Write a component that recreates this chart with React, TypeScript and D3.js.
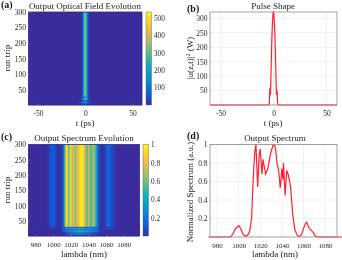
import React, { useEffect, useRef } from "react";
import * as d3 from "d3";

// parula colormap samples
const parula = ["#3a2c9c", "#0f5cdd", "#127dd8", "#079ccf", "#15b1b4", "#59bd8c", "#a5be6b", "#e1b952", "#fcce2e", "#f9fb0e"];

// pulse shape (b), also the steady part of panel (a)
const pulseTimes = [-60, -4.4, -3.9, -3.5, -3.2, -2.9, -2.5, -2, -1.5, -1, -0.5, -0.2, 0.2, 0.6, 1, 1.5, 2, 2.5, 2.8, 3.1, 3.4, 3.9, 4.4, 60];
const pulsePower = [0, 0, 8, 55, 58, 35, 85, 165, 235, 285, 315, 322, 320, 300, 275, 225, 150, 70, 35, 52, 45, 6, 0, 0];

// early round trips of panel (a)
const earlyTrips = [1, 5, 8, 11, 14, 18, 21, 24, 27, 30, 34];
const earlyTimes = [-8, -6, -4, -2, 0, 2, 4, 6, 8];
const earlyField = [
  [0, 2, 14, 22, 30, 22, 14, 2, 0],
  [0, 14, 40, 70, 50, 60, 30, 10, 0],
  [0, 20, 70, 130, 90, 70, 50, 14, 0],
  [0, 10, 50, 120, 170, 100, 40, 10, 0],
  [0, 8, 20, 50, 80, 50, 20, 8, 0],
  [0, 0, 30, 130, 300, 220, 40, 0, 0],
  [0, 0, 20, 170, 380, 240, 30, 0, 0],
  [0, 0, 10, 60, 120, 80, 10, 0, 0],
  [0, 0, 8, 120, 250, 160, 8, 0, 0],
  [0, 0, 0, 170, 310, 200, 0, 0, 0]
];

// output spectrum (d), also the steady part of panel (c)
const lambdas = [972, 990, 993, 995, 997, 999, 1000, 1002, 1004, 1006, 1008, 1010, 1012, 1013, 1014, 1015, 1016, 1017.6, 1019, 1020, 1021.6, 1022.5, 1025, 1027, 1029.5, 1032, 1034, 1035.5, 1037, 1038.5, 1040, 1041, 1041.5, 1043, 1044.5, 1046, 1048, 1050, 1052, 1054, 1056, 1058, 1060, 1062, 1063, 1065, 1067, 1069, 1071, 1073, 1098];
const spectrum = [0, 0, 0.005, 0.04, 0.09, 0.11, 0.125, 0.09, 0.03, 0.01, 0.015, 0.05, 0.2, 0.5, 0.75, 0.92, 1, 0.54, 0.89, 0.95, 0.68, 0.84, 0.68, 0.74, 0.9, 1, 0.97, 0.8, 0.72, 0.53, 0.74, 0.62, 0.8, 0.45, 0.72, 0.67, 0.55, 0.25, 0.08, 0.02, 0.005, 0.02, 0.09, 0.15, 0.16, 0.1, 0.075, 0.05, 0.01, 0, 0];

// early round trips of panel (c)
const spectrumTrips = [1, 6, 11, 15, 18, 22, 26, 28, 31];
const spectrumGrid = [972, 995, 1000, 1008, 1012, 1020, 1030, 1040, 1050, 1054, 1062, 1067, 1075, 1098];
const spectrumEarly = [
  [0, 0, 0, 0, 0, 0.02, 0.05, 0.02, 0, 0, 0, 0, 0, 0],
  [0, 0, 0, 0, 0, 0.08, 0.16, 0.1, 0.02, 0, 0, 0, 0, 0],
  [0, 0, 0, 0, 0.04, 0.18, 0.25, 0.2, 0.06, 0, 0, 0, 0, 0],
  [0, 0, 0, 0, 0.12, 0.3, 0.42, 0.3, 0.14, 0.02, 0, 0, 0, 0],
  [0, 0, 0, 0, 0.14, 0.26, 0.36, 0.28, 0.18, 0.03, 0, 0, 0, 0],
  [0, 0, 0.03, 0, 0.08, 0.12, 0.16, 0.12, 0.08, 0, 0.03, 0.03, 0, 0],
  [0, 0.03, 0.1, 0, 0.25, 0.32, 0.32, 0.3, 0.25, 0.02, 0.08, 0.1, 0, 0],
  [0, 0.01, 0.02, 0, 0.12, 0.16, 0.16, 0.15, 0.12, 0, 0.02, 0.02, 0, 0]
];

const tTicks = [-50, 0, 50];
const tripTicks = [50, 100, 150, 200, 250, 300];
const lambdaTicks = [980, 1000, 1020, 1040, 1060, 1080];
const powerTicks = [50, 100, 150, 200, 250, 300];
const normTicks = [0.2, 0.4, 0.6, 0.8, 1];
const fieldBarTicks = [100, 200, 300, 400, 500];
const spectrumBarTicks = [0.2, 0.4, 0.6, 0.8, 1];

const serif = "'Liberation Serif', serif";
const frameColor = "#8c8c8c";

const App = () => {
  const ref = useRef<SVGSVGElement>(null);

  useEffect(() => {
    const svg = d3.select(ref.current);
    svg.selectAll("*").remove();
    const defs = svg.append("defs");
    defs.append("filter").attr("id", "soft").attr("x", 0).attr("y", 0).attr("width", 1).attr("height", 1)
      .attr("color-interpolation-filters", "sRGB")
      .append("feGaussianBlur").attr("stdDeviation", 0.42);
    const root = svg.append("g").attr("filter", "url(#soft)");
    root.append("rect").attr("width", 342).attr("height", 260).attr("fill", "#fff");

    const colorAt = d3.scaleLinear<string>()
      .domain(parula.map((_, i) => i / (parula.length - 1)))
      .range(parula);

    let gradId = 0;
    // horizontal gradient from a row of values, stops sit on the data points
    const rowGradient = (xs: number[], vs: number[], x: any, vMax: number) => {
      const id = `row${gradId++}`;
      const [d0, d1] = x.domain();
      const g = defs.append("linearGradient").attr("id", id)
        .attr("gradientUnits", "userSpaceOnUse")
        .attr("x1", x(d0)).attr("x2", x(d1)).attr("y1", 0).attr("y2", 0);
      xs.forEach((v, i) => {
        g.append("stop")
          .attr("offset", (v - d0) / (d1 - d0))
          .attr("stop-color", colorAt(vs[i] / vMax));
      });
      return `url(#${id})`;
    };

    const drawAxes = (x: any, y: any, xTicks: number[], yTicks: number[], grid: boolean, xSize: number) => {
      const [xa, xb] = x.range();
      const [yb, ya] = y.range();
      if (grid) {
        const g = root.append("g").attr("stroke", "#e9e9e9").attr("stroke-width", 0.6);
        xTicks.forEach(t => g.append("line").attr("x1", x(t)).attr("x2", x(t)).attr("y1", ya).attr("y2", yb));
        yTicks.forEach(t => g.append("line").attr("x1", xa).attr("x2", xb).attr("y1", y(t)).attr("y2", y(t)));
      }
      const bottom = root.append("g").attr("transform", `translate(0,${yb})`)
        .call(d3.axisBottom(x).tickValues(xTicks).tickSize(-1.2).tickPadding(6).tickFormat((d: any) => `${d}`));
      const left = root.append("g").attr("transform", `translate(${xa},0)`)
        .call(d3.axisLeft(y).tickValues(yTicks).tickSize(-1.2).tickPadding(2.5).tickFormat((d: any) => `${d}`));
      [bottom, left].forEach(a => {
        a.select(".domain").remove();
        a.selectAll("line").attr("stroke", "#999").attr("stroke-width", 0.5);
        a.selectAll("text").attr("font-family", serif).attr("font-size", 7.5).attr("fill", "#262626");
      });
      bottom.selectAll("text").attr("font-size", xSize);
    };

    const label = (x: number, y: number, s: string, size = 9, rotate = false, weight = "normal", anchor = "middle") =>
      root.append("text")
        .attr("transform", `translate(${x},${y})${rotate ? " rotate(-90)" : ""}`)
        .attr("text-anchor", anchor).attr("font-family", serif)
        .attr("font-size", size).attr("font-weight", weight).attr("fill", "#1a1a1a")
        .text(s);

    const colorbar = (x0: number, x1: number, y: any, ticks: number[]) => {
      const id = `bar${gradId++}`;
      const g = defs.append("linearGradient").attr("id", id).attr("x1", 0).attr("x2", 0).attr("y1", 1).attr("y2", 0);
      parula.forEach((c, i) => g.append("stop").attr("offset", i / (parula.length - 1)).attr("stop-color", c));
      const [yb, ya] = y.range();
      root.append("rect").attr("x", x0).attr("y", ya).attr("width", x1 - x0).attr("height", yb - ya)
        .attr("fill", `url(#${id})`).attr("stroke", "#555").attr("stroke-width", 0.4);
      const a = root.append("g").attr("transform", `translate(${x1},0)`)
        .call(d3.axisRight(y).tickValues(ticks).tickSize(0).tickPadding(2.5).tickFormat((d: any) => `${d}`));
      a.select(".domain").remove();
      a.selectAll("text").attr("font-family", serif).attr("font-size", 7.2).attr("fill", "#262626");
    };

    const frame = (x: any, y: any, color: string) => {
      const [xa, xb] = x.range();
      const [yb, ya] = y.range();
      root.append("rect").attr("x", xa).attr("y", ya).attr("width", xb - xa).attr("height", yb - ya)
        .attr("fill", "none").attr("stroke", color).attr("stroke-width", 0.8);
    };

    // (a) field evolution
    const ax = d3.scaleLinear().domain([-60, 60]).range([28.5, 142]);
    const ay = d3.scaleLinear().domain([1, 300]).range([105, 12]);
    const fieldMax = 535;
    root.append("rect").attr("x", 28.5).attr("y", 12).attr("width", 113.5).attr("height", 93)
      .attr("fill", rowGradient(pulseTimes, pulsePower, ax, fieldMax));
    earlyField.forEach((row, i) => {
      const top = ay(earlyTrips[i + 1]);
      const fullT = [-60, ...earlyTimes, 60];
      const fullV = [0, ...row, 0];
      root.append("rect").attr("x", 28.5).attr("y", top).attr("width", 113.5)
        .attr("height", ay(earlyTrips[i]) - top + 0.2)
        .attr("fill", rowGradient(fullT, fullV, ax, fieldMax));
    });
    frame(ax, ay, "#2a2a80");
    drawAxes(ax, ay, tTicks, tripTicks, false, 7.5);
    colorbar(146, 151.5, d3.scaleLinear().domain([0, fieldMax]).range([105, 12]), fieldBarTicks);
    label(85, 8.5, "Output Optical Field Evolution");
    label(85, 126, "t (ps)");
    label(10, 58, "run trip", 9, true);
    label(1, 7.5, "(a)", 10, false, "bold", "start");

    // (b) pulse shape
    const bx = d3.scaleLinear().domain([-60, 60]).range([210, 337]);
    const by = d3.scaleLinear().domain([0, 322]).range([105, 12]);
    drawAxes(bx, by, tTicks, powerTicks, true, 7.5);
    root.append("path").datum(pulseTimes.map((t, i) => [t, pulsePower[i]]))
      .attr("d", d3.line().x((d: any) => bx(d[0])).y((d: any) => by(d[1])) as any)
      .attr("fill", "none").attr("stroke", "#ff1f2f").attr("stroke-width", 1.2);
    frame(bx, by, frameColor);
    label(273, 8.5, "Pulse Shape");
    label(273, 126, "t (ps)");
    const blabel = label(193, 58, "", 9, true);
    blabel.append("tspan").text("|u(z,t)|");
    blabel.append("tspan").attr("dy", -3).attr("font-size", 6).text("2");
    blabel.append("tspan").attr("dy", 3).text(" (W)");
    label(187, 11.5, "(b)", 10, false, "bold", "start");

    // (c) spectrum evolution
    const cx = d3.scaleLinear().domain([972, 1098]).range([28.5, 139.5]);
    const cy = d3.scaleLinear().domain([1, 300]).range([236, 144.5]);
    root.append("rect").attr("x", 28.5).attr("y", 144.5).attr("width", 111).attr("height", 91.5)
      .attr("fill", rowGradient(lambdas, spectrum, cx, 1.04));
    spectrumEarly.forEach((row, i) => {
      const top = cy(spectrumTrips[i + 1]);
      root.append("rect").attr("x", 28.5).attr("y", top).attr("width", 111)
        .attr("height", cy(spectrumTrips[i]) - top + 0.2)
        .attr("fill", rowGradient(spectrumGrid, row, cx, 1));
    });
    frame(cx, cy, "#2a2a80");
    drawAxes(cx, cy, lambdaTicks, tripTicks, false, 7);
    colorbar(143, 148.5, d3.scaleLinear().domain([0, 1]).range([236, 144.5]), spectrumBarTicks);
    label(84, 141, "Output Spectrum Evolution");
    label(84, 256.5, "lambda (nm)");
    label(10, 190, "run trip", 9, true);
    label(1, 140, "(c)", 10, false, "bold", "start");

    // (d) output spectrum
    const dx = d3.scaleLinear().domain([973.5, 1091]).range([210, 337]);
    const dy = d3.scaleLinear().domain([0, 1]).range([237, 144.5]);
    drawAxes(dx, dy, lambdaTicks, normTicks, true, 7);
    root.append("path").datum(lambdas.map((l, i) => [l, spectrum[i]]))
      .attr("d", d3.line().x((d: any) => dx(d[0])).y((d: any) => dy(d[1])) as any)
      .attr("fill", "none").attr("stroke", "#ff1f2f").attr("stroke-width", 1.2);
    frame(dx, dy, frameColor);
    label(275, 141, "Output Spectrum");
    label(275, 256.5, "lambda (nm)");
    label(193, 192, "Normalized Spectrum (a.u.)", 9, true);
    label(187, 139, "(d)", 10, false, "bold", "start");
  }, []);

  return (
    <svg
      ref={ref}
      width={342}
      height={260}
      style={{ position: "absolute", left: 0, top: 0 }}
    />
  );
};

export default App;
